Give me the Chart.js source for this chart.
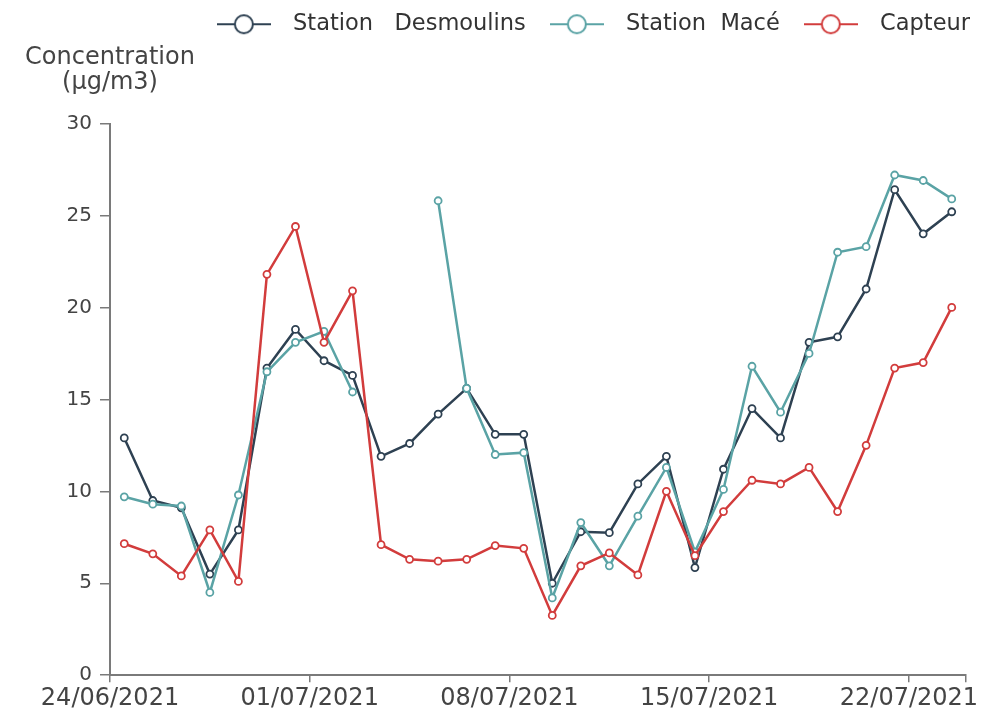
<!DOCTYPE html>
<html>
<head>
<meta charset="utf-8">
<script src="https://cdn.jsdelivr.net/npm/chart.js@4.4.1/dist/chart.umd.min.js"></script>
<style>
  html, body { margin: 0; padding: 0; background: #fff; }
  #wrap { width: 995px; height: 715px; position: relative; }
</style>
</head>
<body>
<div id="wrap"><canvas id="chart"></canvas></div>
<script>
// daily values, 24/06/2021 -> 23/07/2021 (plotted at noon)
const days = ['24/06', '25/06', '26/06', '27/06', '28/06', '29/06', '30/06',
    '01/07', '02/07', '03/07', '04/07', '05/07', '06/07', '07/07',
    '08/07', '09/07', '10/07', '11/07', '12/07', '13/07', '14/07',
    '15/07', '16/07', '17/07', '18/07', '19/07', '20/07', '21/07',
    '22/07', '23/07'];

const desmoulins = [12.9, 9.5, 9.1, 5.5, 7.9, 16.7, 18.8, 17.1, 16.3, 11.9,
    12.6, 14.2, 15.6, 13.1, 13.1, 5.0, 7.8, 7.75, 10.4, 11.9,
    5.85, 11.2, 14.5, 12.9, 18.1, 18.4, 21.0, 26.4, 24.0, 25.2];

const mace = [9.7, 9.3, 9.2, 4.5, 9.8, 16.5, 18.1, 18.7, 15.4, null,
    null, 25.8, 15.6, 12.0, 12.1, 4.2, 8.3, 5.95, 8.65, 11.3,
    6.7, 10.1, 16.8, 14.3, 17.5, 23.0, 23.3, 27.2, 26.9, 25.9];

const capteur = [7.15, 6.6, 5.4, 7.9, 5.1, 21.8, 24.4, 18.1, 20.9, 7.1,
    6.3, 6.2, 6.3, 7.05, 6.9, 3.25, 5.95, 6.65, 5.45, 10.0,
    6.5, 8.9, 10.6, 10.4, 11.3, 8.9, 12.5, 16.7, 17.0, 20.0];

const tickLabels = ['24/06/2021', '01/07/2021', '08/07/2021', '15/07/2021', '22/07/2021'];
const seriesNames = ['Station   Desmoulins', 'Station  Macé', 'Capteur'];
const colors = ['#2e4152', '#5aa3a5', '#d23c3c'];

const FONT = 'DejaVu Sans';

// day index -> noon of that day on the linear axis
const toPoints = (vals) => vals.map((v, i) => ({ x: i + 0.5, y: v }));

// legend marker: short line through an open circle
function makeMarker(color) {
    const c = document.createElement('canvas');
    c.width = 54; c.height = 24;
    const g = c.getContext('2d');
    g.strokeStyle = color;
    g.lineWidth = 2;
    g.beginPath(); g.moveTo(0, 12); g.lineTo(54, 12); g.stroke();
    g.beginPath(); g.arc(27, 12, 9, 0, Math.PI * 2);
    g.fillStyle = '#fff'; g.fill(); g.stroke();
    return c;
}
const markers = colors.map(makeMarker);

const makeSet = (i, vals, order) => ({
    label: seriesNames[i],
    data: toPoints(vals),
    borderColor: colors[i],
    backgroundColor: colors[i],
    borderWidth: 2.5,
    pointRadius: 3.5,
    pointBorderWidth: 1.8,
    pointBackgroundColor: '#fff',
    pointBorderColor: colors[i],
    tension: 0,
    spanGaps: false,
    order: order,
});

// title centred over the y axis, legend pushed to the right edge
const placeHeader = {
    id: 'placeHeader',
    afterLayout(chart) {
        const t = chart.titleBlock;
        if (t) { t.left = 0; t.right = chart.chartArea.left * 2; t.width = t.right; }
        const lg = chart.legend;
        if (lg) { lg.left = 0; lg.right = 983; lg.width = 983; }
    }
};

const weekTicks = [0, 7, 14, 21, 28, 30];

new Chart(document.getElementById('chart'), {
    type: 'line',
    data: {
        datasets: [
            makeSet(0, desmoulins, 3),
            makeSet(1, mace, 2),
            makeSet(2, capteur, 1),
        ]
    },
    options: {
        responsive: true,
        maintainAspectRatio: false,
        animation: false,
        layout: { padding: { top: 0, right: 29, bottom: 0, left: 0 } },
        scales: {
            x: {
                type: 'linear',
                min: 0,
                max: days.length,
                afterBuildTicks: (scale) => { scale.ticks = weekTicks.map(v => ({ value: v })); },
                ticks: {
                    autoSkip: false,
                    maxRotation: 0,
                    padding: 2,
                    color: '#444',
                    font: { family: FONT, size: 24, lineHeight: 1.2 },
                    callback: (v) => {
                        const k = weekTicks.indexOf(v);
                        return k >= 0 && k < tickLabels.length ? tickLabels[k] : '';
                    }
                },
                grid: { drawOnChartArea: false, drawTicks: true, tickLength: 7, color: '#7a7a7a', lineWidth: 1.5 },
                border: { display: true, color: '#7a7a7a', width: 2 },
            },
            y: {
                min: 0,
                max: 30,
                ticks: {
                    stepSize: 5,
                    padding: 8,
                    color: '#444',
                    font: { family: FONT, size: 20 },
                },
                afterFit: (scale) => { scale.width = 110; },
                grid: { drawOnChartArea: false, drawTicks: true, tickLength: 10, color: '#7a7a7a', lineWidth: 1.5 },
                border: { display: true, color: '#7a7a7a', width: 2 },
            }
        },
        plugins: {
            legend: {
                display: true,
                position: 'top',
                align: 'end',
                weight: 3000,
                labels: {
                    usePointStyle: true,
                    pointStyleWidth: 76,
                    padding: 13,
                    color: '#333',
                    font: { family: FONT, size: 22.5 },
                    sort: (a, b) => a.datasetIndex - b.datasetIndex,
                    generateLabels: (chart) => {
                        const items = Chart.defaults.plugins.legend.labels.generateLabels(chart);
                        items.forEach(it => { it.pointStyle = markers[it.datasetIndex]; });
                        return items;
                    }
                }
            },
            title: {
                display: true,
                text: ['Concentration', '(µg/m3)'],
                align: 'center',
                color: '#444',
                font: { family: FONT, size: 24, weight: 'normal', lineHeight: '25px' },
                padding: { top: 0, bottom: 28 },
            },
            tooltip: { enabled: false }
        }
    },
    plugins: [placeHeader]
});
</script>
</body>
</html>
